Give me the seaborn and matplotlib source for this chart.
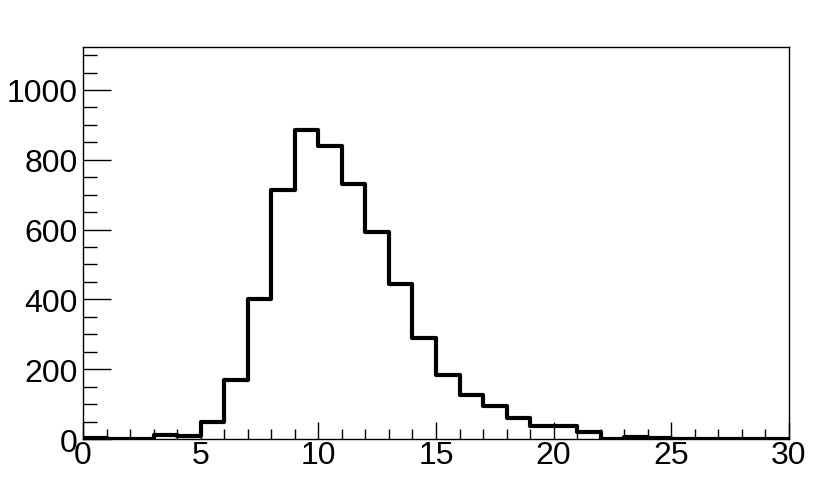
import numpy as np
import pandas as pd
import matplotlib
matplotlib.use("Agg")
import matplotlib.pyplot as plt
from matplotlib.ticker import MultipleLocator
import seaborn as sns

# bin edges 0..30, width 1
BIN_EDGES = list(range(0, 31))
COUNTS = [2, 1, 1, 12, 10, 50, 169, 400, 713, 884, 840, 731, 593, 445, 289,
          183, 127, 94, 59, 36, 38, 19, 1, 5, 4, 1, 0, 0, 0, 0]

Y_MAX = 1123

sns.set_theme(style="white")
plt.rcParams['font.family'] = ['Liberation Sans', 'DejaVu Sans']

df = pd.DataFrame({
    'x': [e + 0.5 for e in BIN_EDGES[:-1]],
    'n': COUNTS,
})

fig = plt.figure(figsize=(8.3, 4.89), dpi=100)
ax = fig.add_axes([0.1, 0.1002, 0.8506, 0.8016])

sns.histplot(data=df, x='x', weights='n', bins=BIN_EDGES, element='step',
             fill=False, color='black', linewidth=3, ax=ax)

ax.set_xlim(0, 30)
ax.set_ylim(0, Y_MAX)
ax.set_xlabel('')
ax.set_ylabel('')

ax.xaxis.set_major_locator(MultipleLocator(5))
ax.xaxis.set_minor_locator(MultipleLocator(1))
ax.yaxis.set_major_locator(MultipleLocator(200))
ax.yaxis.set_minor_locator(MultipleLocator(50))

ax.tick_params(axis='both', which='both', direction='in', bottom=True, left=True,
               top=False, right=False, labelsize=23, color='black',
               labelcolor='black', width=1)
ax.tick_params(axis='y', which='major', length=20, pad=4)
ax.tick_params(axis='y', which='minor', length=10)
ax.tick_params(axis='x', which='major', length=12, pad=1)
ax.tick_params(axis='x', which='minor', length=7)

for s in ax.spines.values():
    s.set_color('black')
    s.set_linewidth(1)

fig.savefig("out.png", dpi=100, facecolor='white')
